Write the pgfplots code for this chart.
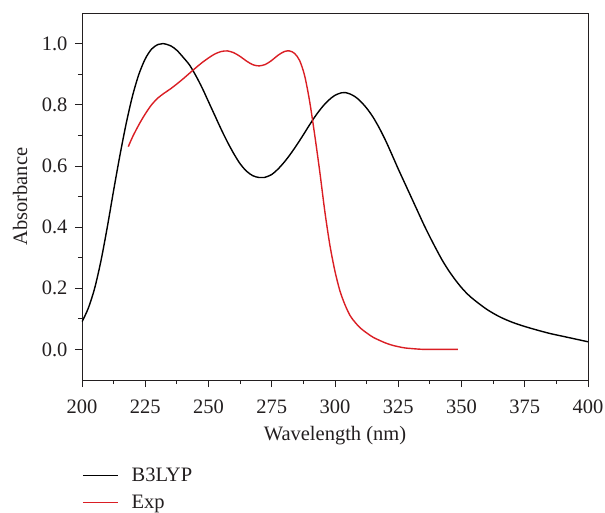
\documentclass[border=0pt]{standalone}
\usepackage{fontspec}
\setmainfont{Liberation Serif}
\usepackage{pgfplots}
\pgfplotsset{compat=1.18}
\definecolor{txt}{HTML}{231F20}
\definecolor{expred}{RGB}{218,30,36}
\begin{document}
\begin{tikzpicture}
\path[use as bounding box] (-82pt,-132pt) rectangle (523pt,380pt);
\begin{axis}[
  scale only axis,
  width=506pt, height=367pt,
  xmin=200, xmax=400, ymin=-0.1, ymax=1.1,
  xtick={200,225,...,400},
  ytick={0,0.2,...,1.0},
  minor x tick num=1, minor y tick num=1,
  tick align=outside,
  xtick pos=bottom, ytick pos=left,
  major tick length=7pt, minor tick length=4pt,
  axis line style={txt, line width=0.8pt},
  every tick/.style={txt, line width=0.8pt},
  /pgf/number format/assume math mode=true,
  ticklabel style={font=\fontsize{20.5}{24}\selectfont, text=txt},
  xticklabel style={yshift=-9pt},
  yticklabel style={xshift=-4pt, /pgf/number format/.cd, fixed, fixed zerofill, precision=1},
  label style={font=\fontsize{20.5}{24}\selectfont, text=txt},
  xlabel={Wavelength (nm)},
  ylabel={Absorbance},
  xlabel style={at={(axis description cs:0.5,-0.152)}, anchor=center},
  ylabel style={at={(axis description cs:-0.1225,0.5)}, anchor=center},
  legend style={at={(0,-0.234)}, anchor=north west, draw=none, fill=none,
    inner sep=0pt, font=\fontsize{20.5}{24}\selectfont, text=txt, row sep=8pt,
    /tikz/every odd column/.append style={column sep=11pt}},
  legend cell align=left,
  legend image code/.code={\draw[#1] (0pt,0pt) -- (35pt,0pt);},
]
\addplot[black, line width=1.4pt, smooth, tension=0.5] coordinates {
(200,0.09) (202.5,0.135) (205,0.2) (207.5,0.29) (210,0.4) (212.5,0.52) (215,0.635)
(217.5,0.74) (220,0.83) (222.5,0.9) (225,0.95) (227.5,0.982) (230,0.997) (232,1.0)
(235,0.993) (237.5,0.978) (240,0.955) (242.5,0.93) (245,0.895) (247.5,0.855) (250,0.81)
(252.5,0.765) (255,0.72) (257.5,0.678) (260,0.64) (262.5,0.607) (265,0.583) (267.5,0.568)
(270,0.562) (272,0.562) (275,0.572) (277.5,0.59) (280,0.613) (282.5,0.64) (285,0.67)
(287.5,0.702) (290,0.735) (292.5,0.766) (295,0.793) (297.5,0.815) (300,0.831) (302.5,0.839)
(304,0.84) (306,0.835) (308,0.826) (310,0.812) (312.5,0.789) (315,0.76) (317.5,0.724)
(320,0.683) (322.5,0.637) (325,0.59) (327.5,0.545) (330,0.5) (332.5,0.455) (335,0.41)
(337.5,0.368) (340,0.328) (342.5,0.29) (345,0.257) (347.5,0.228) (350,0.202) (352.5,0.18)
(355,0.162) (360,0.131) (365,0.107) (370,0.089) (375,0.075) (380,0.063) (385,0.052)
(390,0.043) (395,0.034) (400,0.025)
};
\addlegendentry{B3LYP}
\addplot[expred, line width=1.4pt, smooth, tension=0.5] coordinates {
(218.3,0.663) (220,0.695) (222.5,0.735) (225,0.77) (227.5,0.8) (230,0.822) (232.5,0.838)
(235,0.852) (237.5,0.868) (240,0.885) (242.5,0.903) (245,0.921) (247.5,0.938) (250,0.953)
(252.5,0.966) (255,0.974) (257.5,0.976) (260,0.97) (262.5,0.958) (265,0.943) (267.5,0.931)
(270,0.927) (272.5,0.932) (275,0.945) (277.5,0.962) (280,0.974) (282,0.976) (284,0.968)
(286,0.945) (288,0.895) (290,0.81) (292,0.7) (294,0.58) (296,0.45) (298,0.34) (300,0.255)
(302,0.19) (304,0.145) (306,0.11) (308,0.088) (310,0.07) (312.5,0.054) (315,0.04)
(317.5,0.03) (320,0.021) (322.5,0.014) (325,0.009) (327.5,0.005) (330,0.003) (333,0.001)
(336,0.0) (342,0.0) (348.6,0.0)
};
\addlegendentry{Exp}
\end{axis}
\end{tikzpicture}
\end{document}
